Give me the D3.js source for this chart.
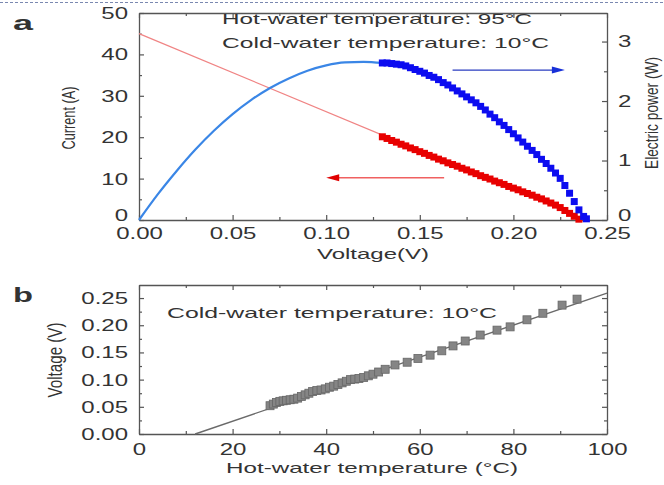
<!DOCTYPE html>
<html>
<head>
<meta charset="utf-8">
<script src="https://cdn.jsdelivr.net/npm/d3@7"></script>
<style>
  body { margin: 0; background: #fff; }
  svg { display: block; font-family: "Liberation Sans", Arial, sans-serif; }
</style>
</head>
<body>
<div id="chart"></div>
<script>
// ---- panel a: current and power vs voltage ----
const redVoltage = [0.1300, 0.1325, 0.1350, 0.1375, 0.1400, 0.1425, 0.1450, 0.1475, 0.1500, 0.1525,
  0.1550, 0.1575, 0.1600, 0.1625, 0.1650, 0.1675, 0.1700, 0.1725, 0.1750, 0.1775,
  0.1800, 0.1825, 0.1850, 0.1875, 0.1900, 0.1925, 0.1950, 0.1975, 0.2000, 0.2025,
  0.2050, 0.2075, 0.2100, 0.2125, 0.2150, 0.2175, 0.2200, 0.2225, 0.2250, 0.2275,
  0.2300, 0.2325, 0.2350]
const redCurrent = [20.1, 19.7, 19.2, 18.8, 18.3, 17.9, 17.4, 17.0, 16.5, 16.1,
  15.6, 15.2, 14.7, 14.3, 13.8, 13.4, 13.0, 12.5, 12.1, 11.6,
  11.2, 10.7, 10.3, 9.9, 9.4, 9.0, 8.6, 8.1, 7.7, 7.3,
  6.8, 6.4, 6.0, 5.5, 5.1, 4.6, 4.1, 3.6, 3.0, 2.3,
  1.6, 0.9, 0.2]

const blueVoltage = [0.1300, 0.1325, 0.1350, 0.1375, 0.1400, 0.1425, 0.1450, 0.1475, 0.1500, 0.1525,
  0.1550, 0.1575, 0.1600, 0.1625, 0.1650, 0.1675, 0.1700, 0.1725, 0.1750, 0.1775,
  0.1800, 0.1825, 0.1850, 0.1875, 0.1900, 0.1925, 0.1950, 0.1975, 0.2000, 0.2025,
  0.2050, 0.2075, 0.2100, 0.2125, 0.2150, 0.2175, 0.2200, 0.2225, 0.2250, 0.2275,
  0.2300, 0.2325, 0.2350, 0.2375, 0.2390]
const bluePower = [2.64, 2.64, 2.63, 2.62, 2.61, 2.59, 2.56, 2.53, 2.50, 2.47,
  2.43, 2.40, 2.36, 2.31, 2.27, 2.22, 2.17, 2.12, 2.07, 2.02,
  1.97, 1.91, 1.85, 1.78, 1.72, 1.65, 1.59, 1.52, 1.45, 1.38,
  1.31, 1.24, 1.17, 1.10, 1.02, 0.95, 0.87, 0.79, 0.70, 0.58,
  0.45, 0.31, 0.17, 0.06, 0.02]

// fitted I-V line and the calculated power curve below the data
const fitVoltage = [0, 0.239]
const fitCurrent = [45, 0]
const curveVoltage = [0, 0.01, 0.02, 0.03, 0.04, 0.05, 0.06, 0.07, 0.08, 0.09, 0.10, 0.11, 0.12, 0.13]
const curvePower = [0, 0.43, 0.82, 1.18, 1.50, 1.78, 2.02, 2.22, 2.38, 2.51, 2.60, 2.65, 2.66, 2.64]

const aXTicks = [0, 0.05, 0.10, 0.15, 0.20, 0.25]
const aYTicks = [0, 10, 20, 30, 40, 50]
const aY2Ticks = [0, 1, 2, 3]

// ---- panel b: open voltage vs hot-water temperature ----
const hotTemp = [28.0, 28.7, 29.4, 30.1, 30.8, 31.5, 32.3, 33.1, 33.9, 34.7,
  35.5, 36.3, 37.1, 38.0, 38.9, 39.8, 40.7, 41.6, 42.5, 43.4,
  44.3, 45.2, 46.1, 47.0, 48.0, 49.0, 50.0, 51.2, 52.6, 54.7,
  57.3, 59.6, 62.2, 64.7, 67.1, 69.7, 72.9, 76.5, 79.3, 82.9,
  86.3, 90.4, 93.6]
const openVoltage = [0.052, 0.055, 0.058, 0.060, 0.061, 0.062, 0.063, 0.064, 0.066, 0.069,
  0.072, 0.075, 0.078, 0.080, 0.081, 0.083, 0.086, 0.088, 0.091, 0.094,
  0.097, 0.100, 0.101, 0.102, 0.104, 0.107, 0.110, 0.114, 0.119, 0.127,
  0.132, 0.139, 0.145, 0.153, 0.162, 0.171, 0.182, 0.191, 0.197, 0.210,
  0.222, 0.237, 0.248]
const fitTemp = [12, 100]
const fitOpenVoltage = [0, 0.259]

const bXTicks = [0, 20, 40, 60, 80, 100]
const bYTicks = [0, 0.05, 0.10, 0.15, 0.20, 0.25]

const W = 664, H = 485
const STRETCH = 1.5
const ink = "#333"
const frame = "#555"

const svg = d3.select("#chart").append("svg")
  .attr("width", W)
  .attr("height", H)

svg.append("line")
  .attr("x1", 0).attr("x2", W).attr("y1", 2.5).attr("y2", 2.5)
  .attr("stroke", "#7a88b0").attr("stroke-dasharray", "3 2")

const xA = d3.scaleLinear().domain([0, 0.25]).range([139, 607])
const yA = d3.scaleLinear().domain([0, 50]).range([220, 13])
const yA2 = d3.scaleLinear().domain([0, 3.48]).range([220, 13])
const xB = d3.scaleLinear().domain([0, 100]).range([139, 607])
const yB = d3.scaleLinear().domain([0, 0.274]).range([434, 285])

const midTicks = (ticks) => ticks.slice(1).map((t, i) => (t + ticks[i]) / 2)

function styleAxis(g) {
  g.select(".domain").attr("stroke", frame).attr("stroke-width", 1.3)
  g.selectAll(".tick line").attr("stroke", frame).attr("stroke-width", 1.2)
  g.selectAll("text").attr("fill", ink).attr("font-size", 16)
}

// draw the four sides of a framed plot with inward ticks
function drawFrame(x, y, {xTicks, yTicks, y2 = null, y2Ticks = [], xFmt, yFmt, xLabelDy, liftZero = false}) {
  const [x0, x1] = x.range()
  const [yb, yt] = y.range()

  const bottom = svg.append("g").attr("transform", `translate(0,${yb})`)
    .call(d3.axisBottom(x).tickValues(xTicks).tickSizeInner(-5).tickSizeOuter(0).tickFormat(xFmt))
  styleAxis(bottom)
  bottom.selectAll("text")
    .attr("y", 0).attr("dy", null)
    .attr("transform", `translate(0,${xLabelDy}) scale(${STRETCH},1)`)

  const top = svg.append("g").attr("transform", `translate(0,${yt})`)
    .call(d3.axisTop(x).tickValues(xTicks).tickSizeInner(-5).tickSizeOuter(0).tickFormat(""))
  styleAxis(top)

  // zero labels sit a little above their tick so they clear the bottom labels
  const sideDy = d => (liftZero && d === 0) ? "0.03em" : "0.34em"

  const left = svg.append("g").attr("transform", `translate(${x0},0)`)
    .call(d3.axisLeft(y).tickValues(yTicks).tickSizeInner(-5).tickSizeOuter(0).tickFormat(yFmt))
  styleAxis(left)
  left.selectAll("text")
    .attr("x", 0).attr("dy", sideDy)
    .attr("transform", `translate(-11,0) scale(${STRETCH},1)`)

  const rightScale = y2 || y
  const right = svg.append("g").attr("transform", `translate(${x1},0)`)
    .call(d3.axisRight(rightScale).tickValues(y2 ? y2Ticks : yTicks).tickSizeInner(-5).tickSizeOuter(0)
      .tickFormat(y2 ? d3.format("d") : ""))
  styleAxis(right)
  right.selectAll("text")
    .attr("x", 0).attr("dy", sideDy)
    .attr("transform", `translate(11,0) scale(${STRETCH},1)`)

  // minor ticks
  const minor = svg.append("g").attr("class", "minor")
  minor.append("g").attr("transform", `translate(0,${yb})`)
    .call(d3.axisBottom(x).tickValues(midTicks(xTicks)).tickSize(-3).tickFormat(""))
  minor.append("g").attr("transform", `translate(0,${yt})`)
    .call(d3.axisTop(x).tickValues(midTicks(xTicks)).tickSize(-3).tickFormat(""))
  minor.append("g").attr("transform", `translate(${x0},0)`)
    .call(d3.axisLeft(y).tickValues(midTicks(yTicks)).tickSize(-3).tickFormat(""))
  minor.append("g").attr("transform", `translate(${x1},0)`)
    .call(d3.axisRight(rightScale).tickValues(midTicks(y2 ? y2Ticks : yTicks)).tickSize(-3).tickFormat(""))
  minor.selectAll(".domain").remove()
  minor.selectAll(".tick line").attr("stroke", frame).attr("stroke-width", 1.2)
}

function hText(txt, x, y, size, length, anchor = "start", weight = "normal") {
  return svg.append("text")
    .attr("x", x).attr("y", y)
    .attr("font-size", size)
    .attr("font-weight", weight)
    .attr("text-anchor", anchor)
    .attr("fill", ink)
    .attr("textLength", length)
    .attr("lengthAdjust", "spacingAndGlyphs")
    .text(txt)
}

function vText(txt, x, y, size, length) {
  return svg.append("text")
    .attr("transform", `translate(${x},${y}) rotate(-90) scale(1,1.4)`)
    .attr("font-size", size)
    .attr("text-anchor", "middle")
    .attr("fill", ink)
    .attr("textLength", length)
    .attr("lengthAdjust", "spacingAndGlyphs")
    .text(txt)
}

// ---------- panel a ----------
drawFrame(xA, yA, {
  xTicks: aXTicks, yTicks: aYTicks, y2: yA2, y2Ticks: aY2Ticks,
  xFmt: d3.format(".2f"), yFmt: d3.format("d"), xLabelDy: 19, liftZero: true
})

const lineA = svg.append("g")

lineA.append("path")
  .datum(d3.zip(fitVoltage, fitCurrent))
  .attr("d", d3.line().x(d => xA(d[0])).y(d => yA(d[1])))
  .attr("fill", "none")
  .attr("stroke", "#f08484")
  .attr("stroke-width", 1.3)

lineA.append("path")
  .datum(d3.zip(curveVoltage, curvePower))
  .attr("d", d3.line().curve(d3.curveMonotoneX).x(d => xA(d[0])).y(d => yA2(d[1])))
  .attr("fill", "none")
  .attr("stroke", "#3a86e6")
  .attr("stroke-width", 2.2)

const ms = 7
svg.append("g").selectAll("rect")
  .data(d3.zip(redVoltage, redCurrent))
  .join("rect")
    .attr("x", d => xA(d[0]) - ms / 2)
    .attr("y", d => yA(d[1]) - ms / 2)
    .attr("width", ms).attr("height", ms)
    .attr("fill", "#e80000")

svg.append("g").selectAll("rect")
  .data(d3.zip(blueVoltage, bluePower))
  .join("rect")
    .attr("x", d => xA(d[0]) - ms / 2)
    .attr("y", d => yA2(d[1]) - ms / 2)
    .attr("width", ms).attr("height", ms)
    .attr("fill", "#0c0cf0")

// arrows pointing to each series' axis
function arrow(xFrom, xTo, y, lineColor, headColor) {
  const dir = Math.sign(xTo - xFrom)
  svg.append("line")
    .attr("x1", xFrom).attr("x2", xTo - dir * 10).attr("y1", y).attr("y2", y)
    .attr("stroke", lineColor).attr("stroke-width", 1.4)
  svg.append("path")
    .attr("d", `M${xTo},${y} L${xTo - dir * 13},${y - 3.5} L${xTo - dir * 13},${y + 3.5} Z`)
    .attr("fill", headColor)
}
arrow(xA(0.163), xA(0.100), yA(10.2), "#f06060", "#e00000")
arrow(xA(0.1675), xA(0.2275), yA2(2.52), "#2a3cc0", "#1830d8")

hText("Hot-water temperature: 95\u00b0C", 222, 24, 15, 310)
hText("Cold-water temperature: 10\u00b0C", 222, 48, 15, 327)
hText("Voltage(V)", 373, 259, 15, 112, "middle")
vText("Current (A)", 75, 118, 13, 63)
vText("Electric power (W)", 658, 113, 13.5, 112)
hText("a", 13, 30, 20, 20, "start", "bold")

// ---------- panel b ----------
drawFrame(xB, yB, {
  xTicks: bXTicks, yTicks: bYTicks,
  xFmt: d3.format("d"), yFmt: d3.format(".2f"), xLabelDy: 21
})

svg.append("path")
  .datum(d3.zip(fitTemp, fitOpenVoltage))
  .attr("d", d3.line().x(d => xB(d[0])).y(d => yB(d[1])))
  .attr("fill", "none")
  .attr("stroke", "#6a6a6a")
  .attr("stroke-width", 1.4)

const bs = 8
svg.append("g").selectAll("rect")
  .data(d3.zip(hotTemp, openVoltage))
  .join("rect")
    .attr("x", d => xB(d[0]) - bs / 2)
    .attr("y", d => yB(d[1]) - bs / 2)
    .attr("width", bs).attr("height", bs)
    .attr("fill", "#858585")
    .attr("stroke", "#666")
    .attr("stroke-width", 0.8)

hText("Cold-water temperature: 10\u00b0C", 167, 318, 15, 330)
hText("Hot-water temperature (\u00b0C)", 372, 473, 15, 292, "middle")
vText("Voltage (V)", 62, 360, 14, 75)
hText("b", 13, 302, 20, 20, "start", "bold")
</script>
</body>
</html>
